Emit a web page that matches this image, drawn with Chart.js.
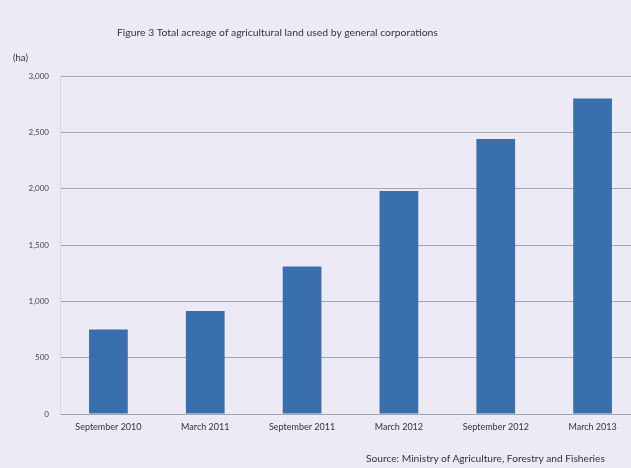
<!DOCTYPE html>
<html>
<head>
<meta charset="utf-8">
<script src="https://cdn.jsdelivr.net/npm/chart.js@4.4.1/dist/chart.umd.min.js"></script>
<style>
  html, body { margin: 0; padding: 0; background: #ecebf5; overflow: hidden; }
  #wrap { position: relative; width: 631px; height: 468px; overflow: hidden; }
  #chart { position: absolute; left: 0; top: 0; }
  .txt { position: absolute; font-family: Lato, "Open Sans", sans-serif; color: #333; white-space: nowrap; }
  #title { left: 117px; top: 26px; font-size: 10.4px; }
  #unit { left: 13px; top: 52px; font-size: 9.5px; }
  #source { left: 366px; top: 452px; font-size: 10.2px; }
</style>
</head>
<body>
<div id="wrap">
  <canvas id="chart" width="641" height="468"></canvas>
  <div class="txt" id="title">Figure 3 Total acreage of agricultural land used by general corporations</div>
  <div class="txt" id="unit">(ha)</div>
  <div class="txt" id="source">Source: Ministry of Agriculture, Forestry and Fisheries</div>
</div>
<script>
// survey dates and total hectares
var periods = ["September 2010", "March 2011", "September 2011", "March 2012", "September 2012", "March 2013"];
var hectares = [750, 915, 1310, 1980, 2440, 2800];
var yTicks = [0, 500, 1000, 1500, 2000, 2500, 3000];

var gridGrey = "#a4a4ae";

var ctx = document.getElementById("chart").getContext("2d");
var areaChart = new Chart(ctx, {
  type: "bar",
  data: {
    labels: periods,
    datasets: [
      {
        data: hectares,
        backgroundColor: "#3a6fae",
        borderWidth: 0,
        categoryPercentage: 1,
        barPercentage: 0.4,
      },
    ],
  },
  options: {
    responsive: false,
    animation: false,
    layout: { padding: { left: 0, right: 0, top: 76, bottom: 0 } },
    plugins: {
      legend: { display: false },
      tooltip: { enabled: false },
    },
    scales: {
      x: {
        grid: { display: false, drawTicks: false },
        border: { display: false },
        ticks: {
          color: "#333",
          font: { family: "Lato", size: 9 },
          padding: 8,
          maxRotation: 0,
        },
        afterFit: function (scale) {
          scale.height = 468 - 414;
        },
      },
      y: {
        min: 0,
        max: 3000,
        afterBuildTicks: function (scale) {
          scale.ticks = yTicks.map(function (v) {
            return { value: v };
          });
        },
        grid: { color: gridGrey, lineWidth: 1, drawTicks: false },
        border: { display: true, color: "#d6d5e2" },
        ticks: {
          color: "#444",
          font: { family: "Lato", size: 8 },
          padding: 11,
          callback: function (v) {
            return v.toLocaleString("en-US");
          },
        },
        afterFit: function (scale) {
          scale.width = 60;
        },
      },
    },
  },
});
</script>
</body>
</html>
